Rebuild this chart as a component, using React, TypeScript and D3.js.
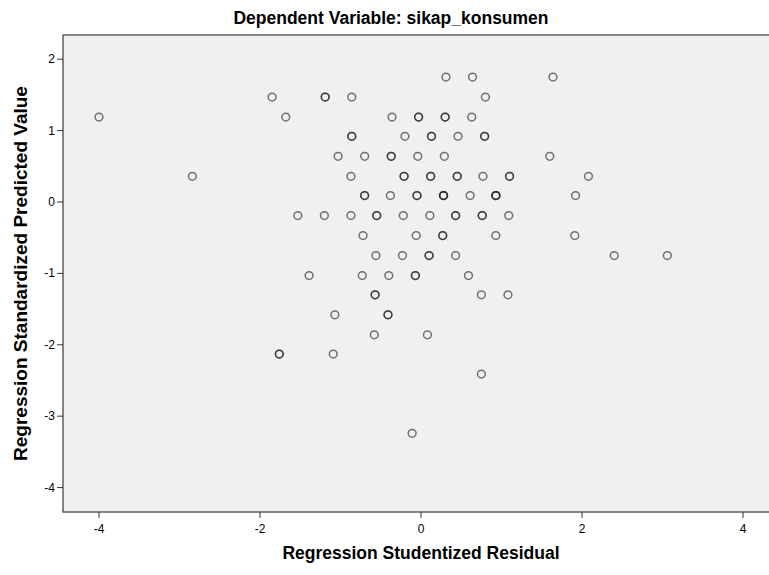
import React from 'react';
import * as d3 from 'd3';

const title = 'Dependent Variable: sikap_konsumen';
const xLabel = 'Regression Studentized Residual';
const yLabel = 'Regression Standardized Predicted Value';
const xTicks = [-4, -2, 0, 2, 4];
const yTicks = [2, 1, 0, -1, -2, -3, -4];

// predicted value levels (y)
const predLevels = [1.75, 1.47, 1.19, 0.92, 0.64, 0.36, 0.09, -0.19, -0.47, -0.75, -1.03, -1.3, -1.58, -1.86, -2.13, -2.41, -3.24];
// studentized residuals (x) at each level
const residuals = [
  [0.31, 0.64, 1.64],
  [-1.85, -1.19, -0.86, 0.8],
  [-4.0, -1.68, -0.36, -0.03, 0.3, 0.63],
  [-0.86, -0.2, 0.13, 0.46, 0.79],
  [-1.03, -0.7, -0.37, -0.04, 0.29, 1.6],
  [-2.84, -0.87, -0.21, 0.12, 0.45, 0.77, 1.1, 2.08],
  [-0.7, -0.38, -0.05, 0.28, 0.61, 0.93, 1.92],
  [-1.53, -1.2, -0.87, -0.55, -0.22, 0.11, 0.43, 0.76, 1.09],
  [-0.72, -0.06, 0.27, 0.93, 1.91],
  [-0.56, -0.23, 0.1, 0.43, 2.4, 3.06],
  [-1.39, -0.73, -0.4, -0.07, 0.59],
  [-0.57, 0.75, 1.08],
  [-1.07, -0.41],
  [-0.58, 0.08],
  [-1.76, -1.09],
  [0.75],
  [-0.11],
];
// number of overlapping cases at each point
const counts = [
  [1, 1, 1],
  [1, 2, 1, 1],
  [1, 1, 1, 2, 2, 1],
  [2, 1, 2, 1, 2],
  [1, 1, 2, 1, 1, 1],
  [1, 1, 2, 2, 2, 1, 2, 1],
  [2, 1, 2, 3, 1, 3, 1],
  [1, 1, 1, 2, 1, 1, 2, 2, 1],
  [1, 1, 2, 1, 1],
  [1, 1, 2, 1, 1, 1],
  [1, 1, 1, 2, 1],
  [2, 1, 1],
  [1, 2],
  [1, 1],
  [2, 1],
  [1],
  [1],
];

const W = 769;
const H = 575;
const left = 63;
const top = 35;
const right = 779;
const bottom = 512;
const font = '"Liberation Sans", Arial, sans-serif';

export default function App() {
  const x = d3.scaleLinear().domain([-4.447, 4.447]).range([left, right]);
  const y = d3.scaleLinear().domain([-4.342, 2.339]).range([bottom, top]);

  const pts: { cx: number; cy: number; k: string }[] = [];
  predLevels.forEach((p, i) => {
    residuals[i].forEach((r, j) => {
      const n = counts[i][j];
      for (let c = 0; c < n; c++) {
        pts.push({ cx: x(r), cy: y(p), k: `${i}-${j}-${c}` });
      }
    });
  });

  return (
    <svg width={W} height={H} style={{ position: 'absolute', left: 0, top: 0, background: '#fff' }} fontFamily={font}>
      <rect x={0} y={0} width={W} height={H} fill="#fff" />
      <text x={391} y={24} textAnchor="middle" fontSize={17.5} fontWeight="bold" fill="#000">{title}</text>
      <rect x={left} y={top} width={right - left} height={bottom - top} fill="#f0f0f0" stroke="#3a3a3a" strokeWidth={1.2} />
      {xTicks.map((t) => (
        <g key={'x' + t}>
          <line x1={x(t)} x2={x(t)} y1={bottom} y2={bottom + 6} stroke="#333" strokeWidth={1} />
          <text x={x(t)} y={533} textAnchor="middle" fontSize={12} fill="#000">{t}</text>
        </g>
      ))}
      {yTicks.map((t) => (
        <g key={'y' + t}>
          <line x1={left - 6} x2={left} y1={y(t)} y2={y(t)} stroke="#333" strokeWidth={1} />
          <text x={left - 8} y={y(t) + 4} textAnchor="end" fontSize={12} fill="#000">{t}</text>
        </g>
      ))}
      <text x={421} y={559} textAnchor="middle" fontSize={17.5} fontWeight="bold" fill="#000">{xLabel}</text>
      <text transform={`translate(27,${(top + bottom) / 2}) rotate(-90)`} textAnchor="middle" fontSize={19} fontWeight="bold" fill="#000">{yLabel}</text>
      {pts.map((p) => (
        <circle key={p.k} cx={p.cx} cy={p.cy} r={3.9} fill="none" stroke="#1a1a1a" strokeOpacity={0.6} strokeWidth={1.5} />
      ))}
    </svg>
  );
}
